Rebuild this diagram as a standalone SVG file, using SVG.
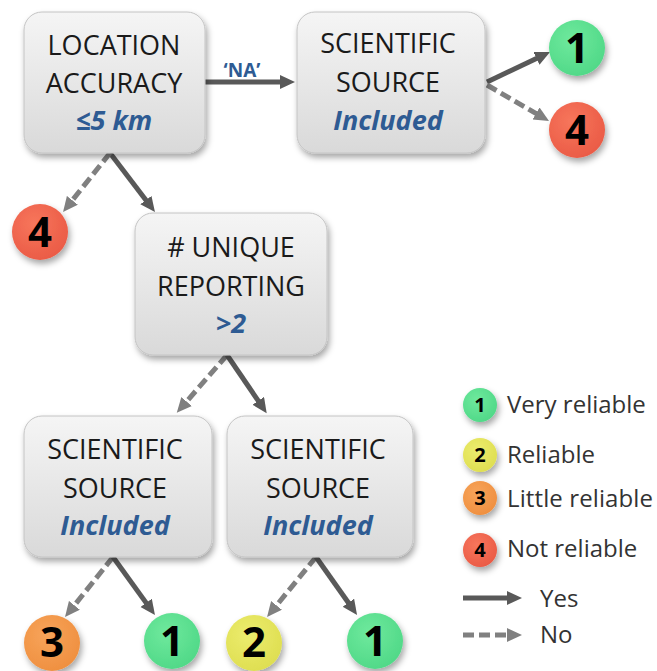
<svg xmlns="http://www.w3.org/2000/svg" width="657" height="671" viewBox="0 0 657 671">
<defs>
<linearGradient id="boxg" x1="0" y1="0" x2="0" y2="1">
<stop offset="0" stop-color="#f5f5f5"/>
<stop offset="1" stop-color="#d9d9d9"/>
</linearGradient>
<radialGradient id="gG" cx="0.4" cy="0.35" r="0.7"><stop offset="0" stop-color="#6fe99d"/><stop offset="1" stop-color="#4fd887"/></radialGradient>
<radialGradient id="gR" cx="0.4" cy="0.35" r="0.7"><stop offset="0" stop-color="#f7765c"/><stop offset="1" stop-color="#ea5a45"/></radialGradient>
<radialGradient id="gO" cx="0.4" cy="0.35" r="0.7"><stop offset="0" stop-color="#f7a45a"/><stop offset="1" stop-color="#ef8f3f"/></radialGradient>
<radialGradient id="gY" cx="0.4" cy="0.35" r="0.7"><stop offset="0" stop-color="#ecec6e"/><stop offset="1" stop-color="#dede50"/></radialGradient>
<filter id="sh" x="-20%" y="-20%" width="150%" height="150%">
<feDropShadow dx="2" dy="4" stdDeviation="3" flood-color="#000" flood-opacity="0.35"/>
</filter>
<marker id="ahS" markerUnits="userSpaceOnUse" markerWidth="16" markerHeight="15" refX="4" refY="7" orient="auto">
<path d="M0,0 L15,7 L0,14 z" fill="#595959"/>
</marker>
<marker id="ahD" markerUnits="userSpaceOnUse" markerWidth="16" markerHeight="15" refX="4" refY="7" orient="auto">
<path d="M0,0 L15,7 L0,14 z" fill="#808080"/>
</marker>
</defs>
<style>
.box{fill:url(#boxg);stroke:#c4c4c4;stroke-width:1;filter:url(#sh)}
.lbl{font-family:"Open Sans","Noto Sans",sans-serif;font-size:27px;fill:#1a1a1a;text-anchor:middle}
.val{font-family:"Open Sans","Noto Sans",sans-serif;font-size:27px;font-weight:bold;font-style:italic;fill:#2e5b93;text-anchor:middle}
.num{font-family:"Open Sans","Noto Sans",sans-serif;font-size:42px;font-weight:bold;fill:#000;text-anchor:middle}
.lnum{font-family:"Open Sans","Noto Sans",sans-serif;font-size:20px;font-weight:bold;fill:#000;text-anchor:middle}
.leg{font-family:"Open Sans","Noto Sans",sans-serif;font-size:24px;fill:#333}
.circ{filter:url(#sh)}
.yes{stroke:#595959;stroke-width:5;fill:none;marker-end:url(#ahS)}
.no{stroke:#808080;stroke-width:5;fill:none;stroke-dasharray:11 5;marker-end:url(#ahD)}
</style>

<g id="connectors">
<line class="yes" x1="205" y1="82" x2="284" y2="82"/>
<text x="242" y="77" font-family="Open Sans, sans-serif" font-size="19" font-weight="bold" fill="#2e5b93" text-anchor="middle">‘NA’</text>
<line class="yes" x1="487" y1="82" x2="540.1" y2="56.7"/>
<line class="no" x1="487" y1="85" x2="539.5" y2="115.5"/>
<line class="yes" x1="110" y1="153" x2="148.3" y2="203.3"/>
<line class="no" x1="110" y1="153" x2="69.9" y2="203.4"/>
<line class="no" x1="227" y1="355" x2="184" y2="404.5"/>
<line class="yes" x1="227" y1="355" x2="260.5" y2="404.1"/>
<line class="no" x1="113" y1="557" x2="71.9" y2="608.4"/>
<line class="yes" x1="113" y1="557" x2="148.5" y2="606.1"/>
<line class="no" x1="316" y1="557" x2="274" y2="608.5"/>
<line class="yes" x1="316" y1="557" x2="350.7" y2="606"/>
</g>

<g id="node-location">
<rect class="box" x="24" y="12" width="181" height="141" rx="18"/>
<text class="lbl" x="114" y="55">LOCATION</text>
<text class="lbl" x="114" y="93">ACCURACY</text>
<text class="val" x="114" y="130">≤5 km</text>
</g>
<g id="node-sci-top">
<rect class="box" x="297" y="12" width="188" height="141" rx="18"/>
<text class="lbl" x="388" y="53">SCIENTIFIC</text>
<text class="lbl" x="388" y="92">SOURCE</text>
<text class="val" x="388" y="130">Included</text>
</g>
<g id="node-unique">
<rect class="box" x="135" y="213" width="192" height="142" rx="18"/>
<text class="lbl" x="231" y="257"># UNIQUE</text>
<text class="lbl" x="231" y="296">REPORTING</text>
<text class="val" x="231" y="333">&gt;2</text>
</g>
<g id="node-sci-left">
<rect class="box" x="24" y="416" width="188" height="141" rx="18"/>
<text class="lbl" x="115" y="459">SCIENTIFIC</text>
<text class="lbl" x="115" y="498">SOURCE</text>
<text class="val" x="115" y="535">Included</text>
</g>
<g id="node-sci-right">
<rect class="box" x="227" y="416" width="186" height="141" rx="18"/>
<text class="lbl" x="318" y="459">SCIENTIFIC</text>
<text class="lbl" x="318" y="498">SOURCE</text>
<text class="val" x="318" y="535">Included</text>
</g>

<g id="out-top-1"><circle class="circ" cx="577" cy="48" r="28" fill="url(#gG)"/><text class="num" x="577" y="63">1</text></g>
<g id="out-top-4"><circle class="circ" cx="577" cy="130" r="28" fill="url(#gR)"/><text class="num" x="577" y="145">4</text></g>
<g id="out-left-4"><circle class="circ" cx="40" cy="232" r="28" fill="url(#gR)"/><text class="num" x="40" y="247">4</text></g>
<g id="out-b-3"><circle class="circ" cx="52" cy="643" r="28" fill="url(#gO)"/><text class="num" x="52" y="657">3</text></g>
<g id="out-b-1a"><circle class="circ" cx="172" cy="641" r="28" fill="url(#gG)"/><text class="num" x="172" y="656">1</text></g>
<g id="out-b-2"><circle class="circ" cx="254" cy="643" r="28" fill="url(#gY)"/><text class="num" x="254" y="657">2</text></g>
<g id="out-b-1b"><circle class="circ" cx="375" cy="641" r="28" fill="url(#gG)"/><text class="num" x="375" y="656">1</text></g>

<g id="legend">
<circle class="circ" cx="480" cy="405" r="17" fill="url(#gG)"/><text class="lnum" x="480" y="412">1</text>
<text class="leg" x="507" y="413">Very reliable</text>
<circle class="circ" cx="480" cy="455" r="17" fill="url(#gY)"/><text class="lnum" x="480" y="462">2</text>
<text class="leg" x="507" y="463">Reliable</text>
<circle class="circ" cx="480" cy="498" r="17" fill="url(#gO)"/><text class="lnum" x="480" y="505">3</text>
<text class="leg" x="507" y="507" textLength="146">Little reliable</text>
<circle class="circ" cx="480" cy="550" r="17" fill="url(#gR)"/><text class="lnum" x="480" y="557">4</text>
<text class="leg" x="507" y="557">Not reliable</text>
<line class="yes" x1="463" y1="598" x2="511" y2="598"/>
<text class="leg" x="540" y="607">Yes</text>
<line class="no" x1="463" y1="635" x2="511" y2="635"/>
<text class="leg" x="540" y="643">No</text>
</g>
</svg>
